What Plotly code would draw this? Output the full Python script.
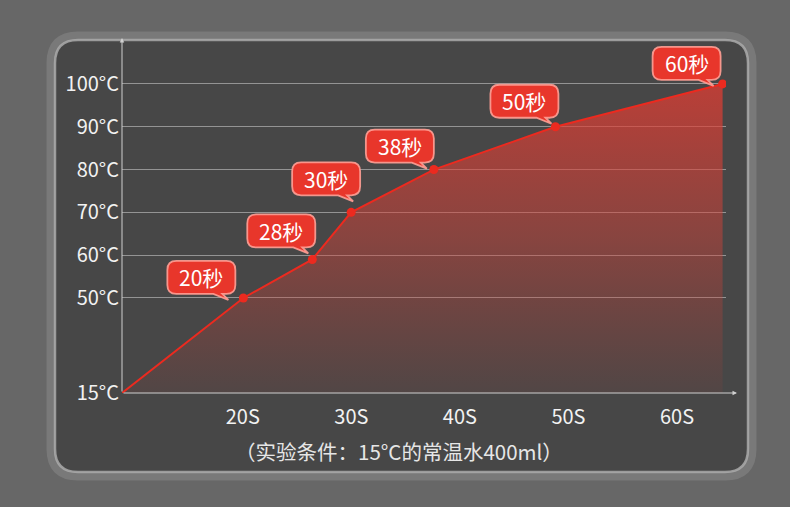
import plotly.graph_objects as go

# data
temps = [15, 50, 59, 70, 80, 90, 100]                 # °C at each point
x_pos = [8.87, 20.05, 26.4, 29.98, 37.6, 48.8, 64.2]  # position on the seconds axis
point_labels = ["", "20秒", "28秒", "30秒", "38秒", "50秒", "60秒"]
y_ticks = [15, 50, 60, 70, 80, 90, 100]
y_tick_text = ["15°C", "50°C", "60°C", "70°C", "80°C", "90°C", "100°C"]
x_ticks = [20, 30, 40, 50, 60]
x_tick_text = ["20S", "30S", "40S", "50S", "60S"]
caption = "（实验条件：15°C的常温水400ml）"

FONT = "Noto Sans CJK SC"
RED = "#ec2a1f"

# broken y axis: everything below 50°C is squeezed
def ymap(v):
    return v if v >= 50 else 50 - (50 - v) * 22.2 / 35

# plot area in pixels
L, R, T, B = 122, 726, 36, 393
def px(x):
    return (x - L) / (R - L)
def py(y):
    return (B - y) / (B - T)

def rounded(x0, y0, x1, y1, r):
    # pixel rect -> paper path
    a, b, c, d = px(x0), py(y0), px(x1), py(y1)
    rx, ry = r / (R - L), r / (B - T)
    return (f"M{a+rx},{b} L{c-rx},{b} Q{c},{b} {c},{b-ry} L{c},{d+ry} Q{c},{d} {c-rx},{d} "
            f"L{a+rx},{d} Q{a},{d} {a},{d+ry} L{a},{b-ry} Q{a},{b} {a+rx},{b} Z")

def bubble(x1, lift, w=68, h=33, rad=9):
    x0, y0, y1 = x1 - w, lift, lift + h
    return (f"M{x0+rad},{y1} L{x1-rad},{y1} Q{x1},{y1} {x1},{y1-rad} L{x1},{y0+rad} "
            f"Q{x1},{y0} {x1-rad},{y0} L{x1-13},{y0} L{x1-7},{y0-6} L{x1-22},{y0} "
            f"L{x0+rad},{y0} Q{x0},{y0} {x0},{y0+rad} L{x0},{y1-rad} Q{x0},{y1} {x0+rad},{y1} Z")

ys = [ymap(v) for v in temps]

fig = go.Figure()
fig.add_trace(go.Scatter(
    x=x_pos, y=ys, mode="lines", fill="tozeroy",
    line=dict(color=RED, width=2),
    fillgradient=dict(type="vertical", start=ymap(15), stop=100,
                      colorscale=[[0, "rgba(200,60,50,0.08)"], [0.5, "rgba(215,65,55,0.45)"],
                                  [1, "rgba(225,60,50,0.75)"]]),
    hoverinfo="skip", showlegend=False))
fig.add_trace(go.Scatter(
    x=x_pos[1:], y=ys[1:], mode="markers",
    marker=dict(color=RED, size=9), hoverinfo="skip", showlegend=False))

shapes = [
    dict(type="path", xref="paper", yref="paper", layer="below",
         path=rounded(51, 36, 752, 476, 27), line=dict(color="rgba(255,255,255,0.12)", width=9)),
    dict(type="path", xref="paper", yref="paper", layer="below",
         path=rounded(55, 40, 748, 472, 23), fillcolor="rgba(68,68,68,0.9)",
         line=dict(color="rgba(170,170,170,0.85)", width=2.5)),
]
annotations = []

# bubble offsets: right edge relative to point, lift above point (pixels)
offsets = [None, (-8, 4), (3, 12), (9, 17), (0, 7), (3, 9), (-2, 4)]
for xv, yv, lab, off in zip(x_pos, ys, point_labels, offsets):
    if not lab:
        continue
    dx, lift = off
    shapes.append(dict(type="path", xref="x", yref="y", xsizemode="pixel", ysizemode="pixel",
                       xanchor=xv, yanchor=yv, path=bubble(dx, lift), layer="above",
                       fillcolor="#e8362b", line=dict(color="rgba(255,160,150,0.9)", width=1.8)))
    annotations.append(dict(x=xv, y=yv, xref="x", yref="y", text=lab, showarrow=False,
                            xshift=dx - 34, yshift=lift + 16.5,
                            font=dict(family=FONT, size=21, color="white")))

# axis arrows
arrow = dict(xref="x domain", yref="y domain", axref="x domain", ayref="y domain",
             ax=0, ay=0, showarrow=True, arrowhead=2, arrowsize=0.9, arrowwidth=1,
             arrowcolor="#d0d0d0", text="")
annotations += [
    dict(arrow, x=0, y=py(38)),
    dict(arrow, x=px(737), y=0),
    dict(xref="paper", yref="paper", x=px(399), y=py(451), text=caption, showarrow=False,
         xanchor="center", yanchor="middle", font=dict(family=FONT, size=20.5, color="#e6e6e6")),
]

fig.update_layout(
    width=790, height=507,
    margin=dict(l=L, r=790 - R, t=T, b=507 - B),
    paper_bgcolor="#676767", plot_bgcolor="rgba(0,0,0,0)",
    shapes=shapes, annotations=annotations,
    xaxis=dict(range=[x_pos[0], 60 + (R - 677) / 10.855], tickvals=x_ticks, ticktext=x_tick_text,
               showgrid=False, zeroline=False, showline=False, ticks="", ticklabelstandoff=10,
               tickfont=dict(family=FONT, size=20, color="#f2f2f2")),
    yaxis=dict(range=[ymap(15), 111.2], tickvals=[ymap(v) for v in y_ticks], ticktext=y_tick_text,
               showgrid=True, gridcolor="rgba(255,255,255,0.42)", gridwidth=1,
               zeroline=False, showline=False, ticks="", ticklabelstandoff=2,
               tickfont=dict(family=FONT, size=20, color="#f2f2f2")),
)

fig.write_html("out.html", config={"displayModeBar": False},
               post_script="document.body.style.margin='0';")
